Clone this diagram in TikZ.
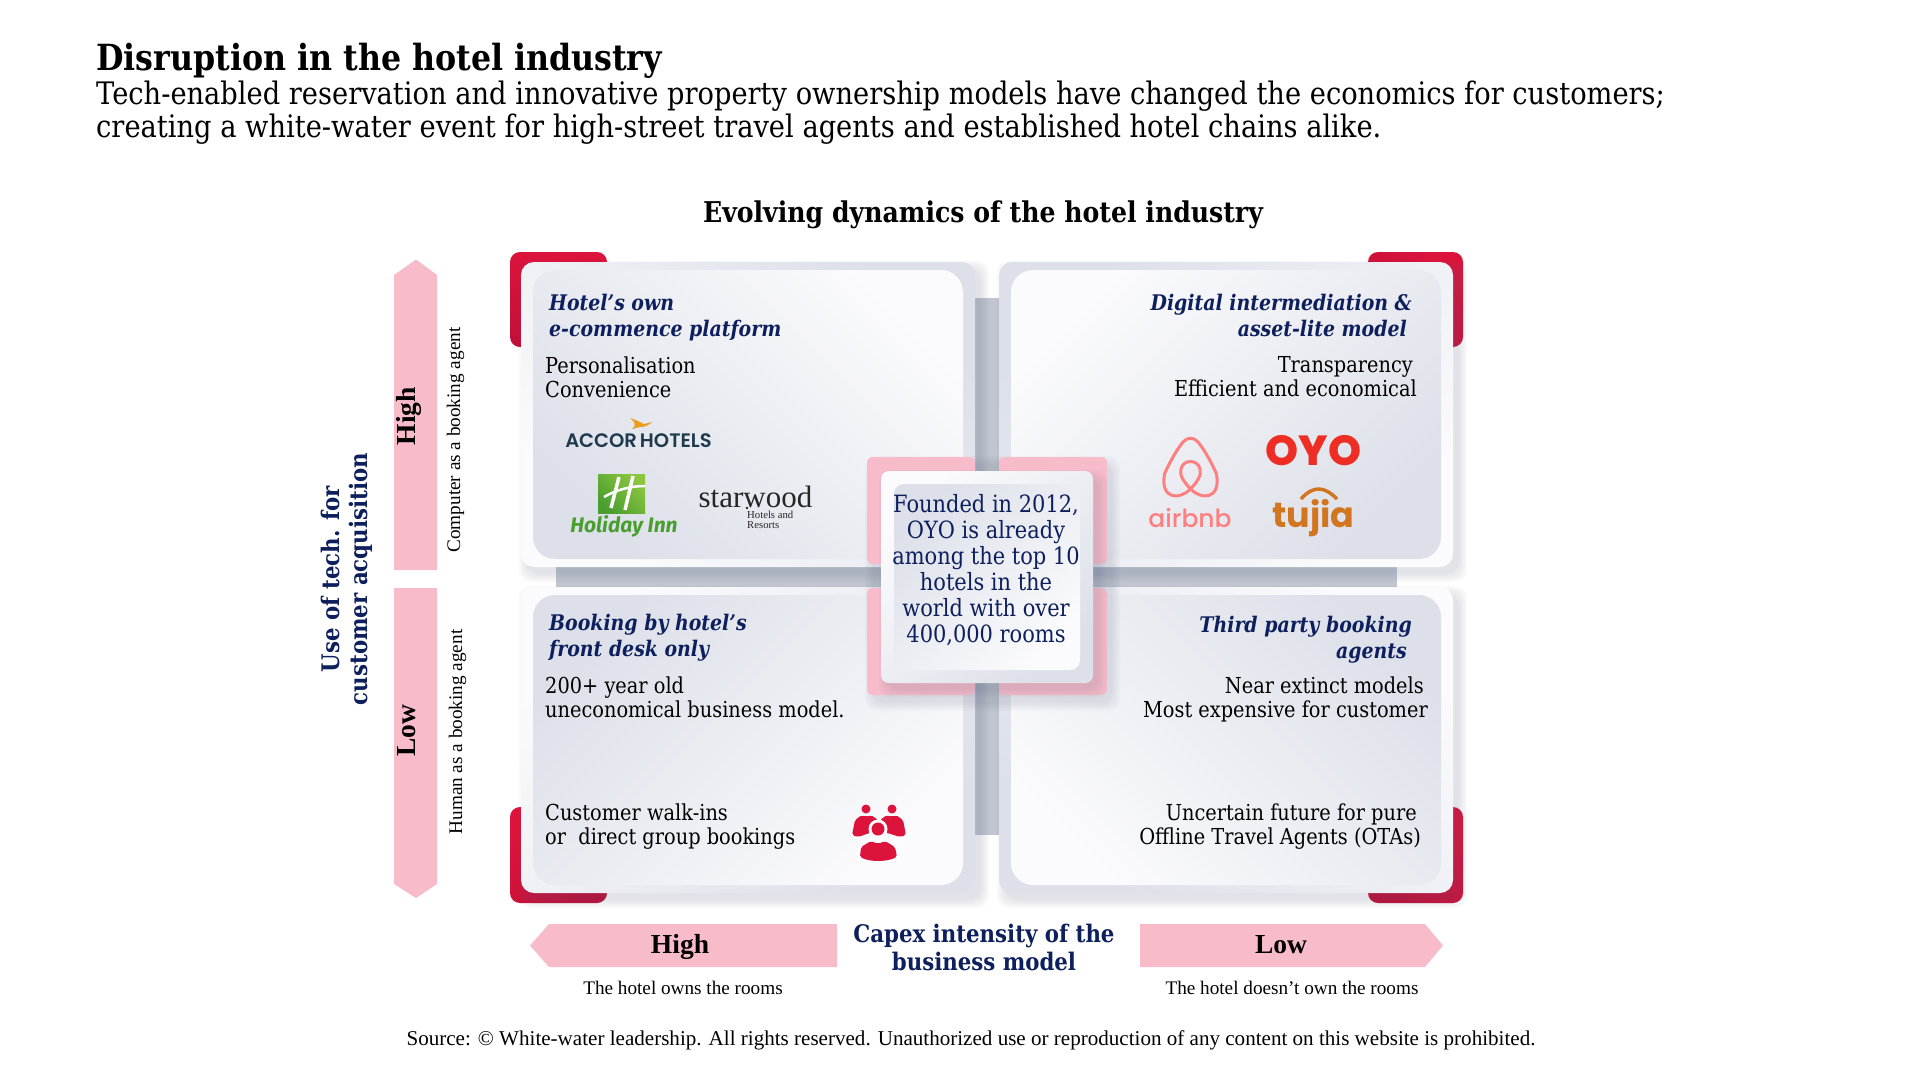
\documentclass[tikz,border=0pt]{standalone}
\usepackage{fontspec}
\setmainfont{DejaVu Serif}[FakeStretch=0.88]
\newfontfamily\timesfont{Liberation Serif}
\newfontfamily\airfont{Poppins Medium}
\newfontfamily\oyofont{Poppins ExtraBold}
\newfontfamily\tujiafont{Poppins}
\newfontfamily\accorfont{Poppins SemiBold}
\newfontfamily\holidayfont{Fira Sans}
\definecolor{navyink}{HTML}{0D1F5C}
\definecolor{softpink}{HTML}{F8BBCA}
\definecolor{tabred}{HTML}{DC143C}
\definecolor{tabdark}{HTML}{C01038}
\definecolor{cardlight}{HTML}{FBFBFD}
\definecolor{carddark}{HTML}{DDE0E9}
\definecolor{barblue}{HTML}{C0C5CF}
\definecolor{shadowblue}{HTML}{5A6480}
\definecolor{accorink}{HTML}{1F3A4D}
\definecolor{accorwing}{HTML}{E8A020}
\definecolor{hollight}{HTML}{8CC63F}
\definecolor{holdark}{HTML}{4A9E2F}
\definecolor{airpink}{HTML}{FF7F7F}
\definecolor{oyored}{HTML}{EE2E24}
\definecolor{tujiaorange}{HTML}{D2751F}
\tikzset{
    titletext/.style={font=\bfseries\fontsize{36}{40}\selectfont,inner sep=0,anchor=base west},
    subtext/.style={font=\fontsize{31}{33}\selectfont,inner sep=0,anchor=base west,align=left},
    headtext/.style={font=\bfseries\itshape\fontsize{21.5}{26}\selectfont,text=navyink,inner sep=0},
    bodytext/.style={font=\fontsize{22}{24}\selectfont,inner sep=0},
    founded/.style={font=\fontsize{23.8}{26}\selectfont,text=navyink,inner sep=0,align=center,anchor=base},
    axistext/.style={font=\bfseries\fontsize{24.2}{28}\selectfont,text=navyink,inner sep=0,align=center,anchor=base},
    leveltext/.style={font=\timesfont\bfseries\fontsize{27.5}{30}\selectfont,inner sep=0,anchor=base},
    notetext/.style={font=\timesfont\fontsize{19.2}{22}\selectfont,inner sep=0,anchor=base},
    sideband/.style={fill=softpink},
}
\newcommand{\softshadow}[5]{%
    \foreach \spread in {0,2,...,8}
        \fill[shadowblue,opacity=#5,rounded corners=12pt] (#1+6-\spread,#2+7-\spread) rectangle (#3+6+\spread,#4+7+\spread);
}
\begin{document}
\begin{tikzpicture}[x=1pt,y=-1pt]
    \useasboundingbox (0,0) rectangle (1920,1080);
    \fill[white] (0,0) rectangle (1920,1080);
    % headings
    \node[titletext] (title) at (96,70) {Disruption in the hotel industry};
    \node[subtext] (subtitle) at (96,137) {Tech-enabled reservation and innovative property ownership models have changed the economics for customers;\\creating a white-water event for high-street travel agents and established hotel chains alike.};
    \node[titletext,anchor=base,font=\bfseries\fontsize{28.6}{32}\selectfont] (charttitle) at (983,222) {Evolving dynamics of the hotel industry};
    % cross behind the cards
    \fill[barblue] (975,298) rectangle (999,835);
    \fill[barblue] (556,567) rectangle (1397,587);
    % red tabs
    \foreach \xa/\ya/\xb/\yb/\ang in {510/252/607/347/0,1368/252/1463/347/-45,510/807/607/903/45,1368/807/1463/903/-45}
        \shade[top color=tabred,bottom color=tabdark,shading angle=\ang,rounded corners=10pt] (\xa,\ya) rectangle (\xb,\yb);
    % cards
    \foreach \xa/\ya/\xb/\yb/\ang/\outtop/\inntop in {521/262/975/567/-45/carddark/cardlight,999/262/1453/567/45/carddark/cardlight,521/587/975/893/45/cardlight/carddark,999/587/1453/893/-45/cardlight/carddark}{
        \softshadow{\xa}{\ya}{\xb}{\yb}{.035}
        \shade[top color=\outtop,bottom color=\inntop,shading angle=\ang,rounded corners=13pt] (\xa,\ya) rectangle (\xb,\yb);
        \shade[top color=\inntop,bottom color=\outtop,shading angle=\ang,rounded corners=22pt] (\xa+12,\ya+8) rectangle (\xb-12,\yb-8);
    }
    % pink squares and centre box
    \softshadow{867}{457}{1106}{696}{.03}
    \foreach \xa/\ya in {867/457,999/457,867/588,999/588}
        \fill[softpink,rounded corners=5pt] (\xa,\ya) rectangle (\xa+108,\ya+107);
    \softshadow{881}{471}{1093}{683}{.035}
    \shade[top color=cardlight,bottom color=carddark,shading angle=45,rounded corners=8pt] (881,471) rectangle (1093,683);
    \shade[top color=carddark,bottom color=cardlight,shading angle=45,rounded corners=10pt] (894,484) rectangle (1080,670);
    \node[founded] (foundedtext) at (986,642) {Founded in 2012,\\OYO is already\\among the top 10\\hotels in the\\world with over\\400,000 rooms};
    % card texts
    \node[headtext,align=left,anchor=base west] (headtl) at (549,336) {Hotel’s own\\e-commence platform};
    \node[bodytext,align=left,anchor=base west] (bodytl) at (545,397) {Personalisation\\Convenience};
    \node[headtext,align=right,anchor=base east] (headtr) at (1412,336) {Digital intermediation \&\\asset-lite model\hspace*{5pt}};
    \node[bodytext,align=right,anchor=base east] (bodytr) at (1417,396) {Transparency\hspace*{4pt}\\Efficient and economical};
    \node[headtext,align=left,anchor=base west] (headbl) at (549,656) {Booking by hotel’s\\front desk only};
    \node[bodytext,align=left,anchor=base west] (bodybl) at (545,717) {200+ year old\\uneconomical business model.};
    \node[bodytext,align=left,anchor=base west] (walkins) at (545,844) {Customer walk-ins\\or\ \ direct group bookings};
    \node[headtext,align=right,anchor=base east] (headbr) at (1412,658) {Third party booking\\agents\hspace*{5pt}};
    \node[bodytext,align=right,anchor=base east] (bodybr) at (1428,717) {Near extinct models\hspace*{4pt}\\Most expensive for customer};
    \node[bodytext,align=right,anchor=base east] (uncertain) at (1421,844) {Uncertain future for pure\hspace*{4pt}\\Offline Travel Agents (OTAs)};
    % logos, left card
    \fill[accorwing] (630,418) .. controls (636,420) and (640,422) .. (644,424) -- (652,422) .. controls (648,426) and (644,427) .. (640,427) -- (632,429) .. controls (636,426) and (636,423) .. cycle;
    \node[font=\accorfont\fontsize{19.5}{22}\selectfont,text=accorink,inner sep=0,anchor=base] (accor) at (638.5,447) {ACCOR\hspace{3pt}HOTELS};
    \shade[top color=hollight,bottom color=holdark,shading angle=-45] (598,474) rectangle (645,513);
    \draw[white,line width=3.5pt] (619,477) -- (611,508) (633,476) -- (625,510);
    \draw[white,line width=2.5pt] (604,497) .. controls (616,490) and (630,486) .. (645,486);
    \node[font=\holidayfont\bfseries\itshape\fontsize{21}{24}\selectfont,text=holdark,inner sep=0,anchor=base] (holiday) at (624,532) {Holiday Inn};
    \node[font=\timesfont\fontsize{31}{34}\selectfont,text=black!85,inner sep=0,anchor=base] (starwood) at (755.5,507) {starwood};
    \fill[black!85] (747,508) circle (1.4);
    \node[font=\timesfont\fontsize{10.7}{9.5}\selectfont,text=black!85,inner sep=0,align=left,anchor=base west] (hotelsres) at (747,528) {Hotels and\\Resorts};
    % logos, right card
    \draw[airpink,line width=3pt] (1190.5,489) .. controls (1180,500) and (1160,500) .. (1164.5,474) .. controls (1170,461) and (1178,448) .. (1183,442) .. controls (1187,437) and (1194,437) .. (1198,442) .. controls (1203,448) and (1211,461) .. (1216.5,474) .. controls (1221,500) and (1201,500) .. (1190.5,489) .. controls (1184,482) and (1179,475) .. (1181,469) .. controls (1183,459) and (1198,459) .. (1200,469) .. controls (1202,475) and (1197,482) .. (1190.5,489);
    \node[font=\airfont\fontsize{25}{28}\selectfont,text=airpink,inner sep=0,anchor=base] (airbnb) at (1190,527) {airbnb};
    \node[font=\oyofont\fontsize{42}{44}\selectfont,text=oyored,inner sep=0,anchor=base] (oyo) at (1313.5,465) {OYO};
    \node[font=\tujiafont\bfseries\fontsize{35}{38}\selectfont,text=tujiaorange,inner sep=0,anchor=base] (tujia) at (1313.5,527) {tujia};
    \draw[tujiaorange,line width=3.5pt] (1301,499) .. controls (1308,491) and (1314,489) .. (1319,489) .. controls (1325,489) and (1331,493) .. (1337,499);
    % people icon
    \fill[tabred] (866,809) circle (4.5) (892,809) circle (4.5);
    \fill[tabred,rounded corners=2pt] (852,835) -- (855,820) -- (862,815) -- (866,817) -- (871,815) -- (878,820) -- (878,830) -- (858,837) -- cycle;
    \fill[tabred,rounded corners=2pt] (906,835) -- (903,820) -- (896,815) -- (892,817) -- (887,815) -- (880,820) -- (878,830) -- (900,837) -- cycle;
    \fill[white] (878,829) circle (9.5);
    \fill[tabred] (878,829) circle (6.5);
    \fill[white,rounded corners=2pt] (856,860) -- (858,846) -- (870,838) -- (886,838) -- (898,846) -- (900,860) -- cycle;
    \fill[tabred,rounded corners=2pt] (860,857) -- (861,847) -- (871,841) -- (878,844) -- (885,841) -- (895,847) -- (897,857) .. controls (886,862) and (870,862) .. cycle;
    % left axis
    \fill[sideband] (394,275) -- (416,259.5) -- (437,275) -- (437,570) -- (394,570) -- cycle;
    \fill[sideband] (394,588) -- (437,588) -- (437,884) -- (416,898) -- (394,884) -- cycle;
    \node[axistext,rotate=90] (sideaxis) at (367,579) {Use of tech. for\\customer acquisition};
    \node[leveltext,rotate=90] (sidehigh) at (415,416) {High};
    \node[leveltext,rotate=90] (sidelow) at (415,731) {Low};
    \node[notetext,rotate=90] (sidenotea) at (460,440) {Computer as a booking agent};
    \node[notetext,rotate=90] (sidenoteb) at (462,732) {Human as a booking agent};
    % bottom axis
    \fill[sideband] (530,945.5) -- (549,924) -- (837,924) -- (837,967) -- (549,967) -- cycle;
    \fill[sideband] (1140,924) -- (1425,924) -- (1443,945.5) -- (1425,967) -- (1140,967) -- cycle;
    \node[axistext] (bottomaxis) at (984,970) {Capex intensity of the\\business model};
    \node[leveltext] (bottomhigh) at (680,953) {High};
    \node[leveltext] (bottomlow) at (1281,953) {Low};
    \node[notetext] (bottomnotea) at (683,994) {The hotel owns the rooms};
    \node[notetext] (bottomnoteb) at (1292,994) {The hotel doesn’t own the rooms};
    \node[notetext,font=\timesfont\fontsize{21.07}{24}\selectfont] (source) at (971,1045) {Source: © White-water leadership. All rights reserved. Unauthorized use or reproduction of any content on this website is prohibited.};
\end{tikzpicture}
\end{document}
